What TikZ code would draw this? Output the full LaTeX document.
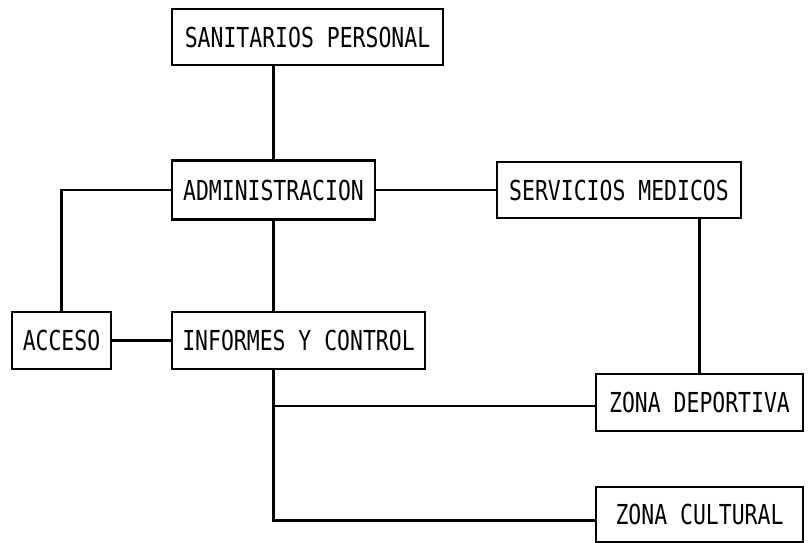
\documentclass[tikz,border=0pt]{standalone}
\usepackage{fontspec}
\usepackage{tikz}
\newfontfamily\boxfont{DejaVu Sans Mono}[FakeStretch=0.78]

\begin{document}
\begin{tikzpicture}[x=1pt, y=-1pt,
  box/.style={draw, line width=2.8pt, inner sep=0pt, font=\boxfont\fontsize{27.5}{30}\selectfont},
  link/.style={line width=2.2pt}]
\useasboundingbox (0,0) rectangle (808,543);
\node[box, minimum width=271pt, minimum height=56pt] (san) at (307.5,37) {SANITARIOS PERSONAL};
\node[box, minimum width=203pt, minimum height=59pt] (adm) at (273.5,190) {ADMINISTRACION};
\node[box, minimum width=244pt, minimum height=56pt] (ser) at (619,190) {SERVICIOS MEDICOS};
\node[box, minimum width=99pt, minimum height=57pt] (acc) at (61.5,340.5) {ACCESO};
\node[box, minimum width=253pt, minimum height=57pt] (inf) at (298.5,340.5) {INFORMES Y CONTROL};
\node[box, minimum width=207pt, minimum height=57pt] (dep) at (699.5,402.5) {ZONA DEPORTIVA};
\node[box, minimum width=207pt, minimum height=55pt] (cul) at (699.5,514.5) {ZONA CULTURAL};
\draw[link] (adm.north) -- (adm.north |- san.south);
\draw[link] (adm) -- (ser);
\draw[link] (adm.west) -| (acc.north);
\draw[link] (adm.south) -- (adm.south |- inf.north);
\draw[link] (acc) -- (inf);
\draw[link] (dep.north) -- (dep.north |- ser.south);
\draw[link] (adm.south |- inf.south) |- ([yshift=-3.5pt]dep.west);
\draw[link] (adm.south |- inf.south) |- ([yshift=-6pt]cul.west);
\end{tikzpicture}
\end{document}
